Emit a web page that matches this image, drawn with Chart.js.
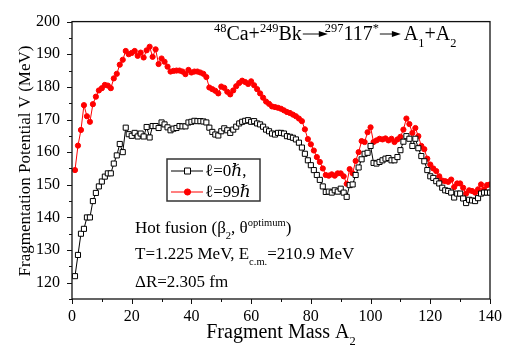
<!DOCTYPE html>
<html>
<head>
<meta charset="utf-8">
<script src="https://cdn.jsdelivr.net/npm/chart.js@4.4.1/dist/chart.umd.min.js"></script>
<style>
    html, body { margin: 0; padding: 0; background: #fff; }
</style>
</head>
<body>
<canvas id="chart" width="510" height="354"></canvas>
<script>
const massA = [
    1, 2, 3, 4, 5, 6, 7, 8, 9, 10,
    11, 12, 13, 14, 15, 16, 17, 18, 19, 20,
    21, 22, 23, 24, 25, 26, 27, 28, 29, 30,
    31, 32, 33, 34, 35, 36, 37, 38, 39, 40,
    41, 42, 43, 44, 45, 46, 47, 48, 49, 50,
    51, 52, 53, 54, 55, 56, 57, 58, 59, 60,
    61, 62, 63, 64, 65, 66, 67, 68, 69, 70,
    71, 72, 73, 74, 75, 76, 77, 78, 79, 80,
    81, 82, 83, 84, 85, 86, 87, 88, 89, 90,
    91, 92, 93, 94, 95, 96, 97, 98, 99, 100,
    101, 102, 103, 104, 105, 106, 107, 108, 109, 110,
    111, 112, 113, 114, 115, 116, 117, 118, 119, 120,
    121, 122, 123, 124, 125, 126, 127, 128, 129, 130,
    131, 132, 133, 134, 135, 136, 137, 138, 139, 140
];

// l = 0 hbar (black open squares)
const potentialL0 = [
    122, 128.5, 135, 136.5, 140, 140, 145, 147.5, 149.5, 151,
    152.5, 153.5, 153.5, 156.5, 159, 162.5, 160, 167.5, 165.5, 165,
    165.9, 164.8, 165.7, 164.8, 167.7, 164.5, 168, 168, 167.4, 169.1,
    168.5, 167.6, 166.7, 167.2, 167.4, 168, 167.9, 167.9, 169.1, 169.3,
    169.6, 169.5, 169.5, 169.4, 169.1, 167.5, 166.2, 165.4, 165.1, 166.4,
    167.3, 166.7, 165.9, 166.9, 167.8, 168.8, 169.3, 169.6, 169.8, 169.3,
    169.5, 168.8, 168.5, 167.8, 166.9, 166.4, 165.7, 165.4, 165.9, 165.9,
    165.7, 164.9, 164.7, 164.4, 163.9, 162.9, 161.4, 159.5, 157.5, 156,
    154.5, 153, 151.5, 149.5, 147.8, 147.9, 147.6, 148.3, 147.9, 148.8,
    147.6, 146.3, 149.9, 150.1, 153, 155.3, 157.8, 159.5, 159.8, 161.9,
    156.7, 156.5, 157, 157.5, 158, 158.2, 157.5, 157.5, 158.5, 160.6,
    163.2, 164.9, 164.1, 161.9, 164.1, 161.2, 158.8, 157.2, 154.5, 152.6,
    152.1, 151.1, 150.4, 149.1, 148.3, 148.1, 147.6, 146.1, 147.3, 147.3,
    145.8, 144.4, 145.4, 145.2, 145, 145.9, 147.3, 147.6, 147.6, 147.6
];

// l = 99 hbar (red filled circles)
const potentialL99 = [
    154.5, 162, 166.8, 174.4, 171, 169.3, 174.7, 177, 178.9, 179.6,
    180.6, 180.4, 179.6, 182.6, 184, 186.8, 188.3, 191, 190, 190.4,
    191, 189.5, 190.5, 189, 191.2, 192.3, 189.2, 191.5, 187, 188.7,
    187.7, 186.2, 184.7, 184.9, 185, 185, 184.7, 183.9, 185.2, 184.4,
    184.7, 184.7, 184.4, 184, 183, 179.8, 179.3, 178.8, 178, 180.1,
    179.7, 178.5, 177.7, 178.9, 180.2, 181.2, 181.9, 181.5, 180.9, 181.7,
    180.5, 179.3, 178, 176.7, 175.5, 174.8, 174, 173.8, 173.6, 173.3,
    172.8, 172.3, 172, 171.5, 171, 170.3, 169.5, 167, 164, 162.4,
    160.5, 158.5, 157, 155, 153, 152.8, 153.2, 152.8, 153.5, 153.5,
    152.6, 150.3, 154.8, 153.5, 157.3, 160, 163.4, 163.1, 166.1, 167.6,
    163.1, 163.6, 164.1, 163.9, 164.2, 163.6, 164.1, 163.1, 163.9, 164.7,
    166.9, 170.3, 168.6, 165.9, 167.4, 164.9, 161.9, 160.9, 158, 156.2,
    155, 154.2, 152.6, 151.3, 151.1, 150.9, 151.6, 149.3, 150.4, 150.4,
    149.1, 147.3, 148.3, 148.1, 147.6, 148.6, 150.1, 148.6, 149.9, 150.1
];

const xTickValues = [0, 20, 40, 60, 80, 100, 120, 140];
const yTickValues = [120, 130, 140, 150, 160, 170, 180, 190, 200];
const seriesNames = ['\u2113=0\u210F,', '\u2113=99\u210F'];

const serif = "'Liberation Serif', 'DejaVu Serif', serif";

// draws a run of text pieces, some raised or lowered, plus arrows
function drawRich(ctx, x, y, size, parts, measureOnly) {
    let cx = x;
    parts.forEach(p => {
        if (p.arrow) {
            if (!measureOnly) {
                const ay = y - size * 0.3;
                ctx.beginPath();
                ctx.moveTo(cx + 1, ay);
                ctx.lineTo(cx + p.arrow - 8, ay);
                ctx.lineWidth = 1;
                ctx.stroke();
                ctx.beginPath();
                ctx.moveTo(cx + p.arrow - 1, ay);
                ctx.lineTo(cx + p.arrow - 10, ay - 3);
                ctx.lineTo(cx + p.arrow - 10, ay + 3);
                ctx.closePath();
                ctx.fill();
            }
            cx += p.adv !== undefined ? p.adv : p.arrow;
            return;
        }
        let fs = size, dy = 0;
        if (p.sup) { fs = size * 0.62; dy = -size * 0.42; }
        if (p.sub) { fs = size * 0.62; dy = size * 0.33; }
        ctx.font = `${fs}px ${serif}`;
        if (!measureOnly) ctx.fillText(p.t, cx, y + dy);
        cx += ctx.measureText(p.t).width;
    });
    return cx - x;
}

const decorations = {
    id: 'decorations',
    afterDraw(chart) {
        const ctx = chart.ctx;
        const a = chart.chartArea;
        const xs = chart.scales.x;
        const ys = chart.scales.y;
        ctx.save();
        ctx.strokeStyle = '#111';
        ctx.fillStyle = '#000';

        // frame
        ctx.lineWidth = 1.3;
        ctx.strokeRect(a.left, a.top, a.right - a.left, a.bottom - a.top);

        // outward ticks, major and minor
        ctx.lineWidth = 1;
        ctx.beginPath();
        for (let v = 0; v <= 140; v += 10) {
            const px = Math.round(xs.getPixelForValue(v)) + 0.5;
            const len = v % 20 === 0 ? 5 : 3;
            ctx.moveTo(px, a.bottom);
            ctx.lineTo(px, a.bottom + len);
        }
        for (let v = 115; v <= 200; v += 5) {
            const py = Math.round(ys.getPixelForValue(v)) + 0.5;
            const len = v % 10 === 0 ? 5 : 3;
            ctx.moveTo(a.left, py);
            ctx.lineTo(a.left - len, py);
        }
        ctx.stroke();

        ctx.textBaseline = 'alphabetic';
        ctx.textAlign = 'left';

        // reaction label
        drawRich(ctx, 214, 40, 20, [
            {t: '48', sup: true}, {t: 'Ca+'}, {t: '249', sup: true}, {t: 'Bk'},
            {arrow: 27, adv: 23}, {t: '297', sup: true}, {t: '117'}, {t: '*', sup: true},
            {arrow: 23, adv: 25}, {t: 'A'}, {t: '1', sub: true}, {t: '+A'}, {t: '2', sub: true}
        ]);

        // conditions
        drawRich(ctx, 135, 233, 17, [
            {t: 'Hot fusion (\u03B2'}, {t: '2', sub: true}, {t: ', \u03B8'},
            {t: 'optimum', sup: true}, {t: ')'}
        ]);
        drawRich(ctx, 135, 259, 17, [
            {t: 'T=1.225 MeV, E'}, {t: 'c.m.', sub: true}, {t: '=210.9 MeV'}
        ]);
        drawRich(ctx, 135, 287, 17, [{t: '\u0394R=2.305 fm'}]);

        // x axis title
        const xt = [{t: 'Fragment Mass A'}, {t: '2', sub: true}];
        const w = drawRich(ctx, 0, 0, 20, xt, true);
        drawRich(ctx, (a.left + a.right) / 2 - w / 2, 338, 20, xt);

        // y axis title
        ctx.save();
        ctx.translate(30, 161);
        ctx.rotate(-Math.PI / 2);
        ctx.font = `17px ${serif}`;
        ctx.textAlign = 'center';
        ctx.fillText('Fragmentation Potential V (MeV)', 0, 0);
        ctx.restore();

        // legend
        ctx.lineWidth = 1.5;
        ctx.strokeStyle = '#333';
        ctx.strokeRect(167, 159, 93, 42);
        chart.data.datasets.forEach((ds, i) => {
            const ly = 171 + i * 21;
            ctx.strokeStyle = ds.borderColor;
            ctx.lineWidth = 1;
            ctx.beginPath();
            ctx.moveTo(171, ly);
            ctx.lineTo(203, ly);
            ctx.stroke();
            ctx.fillStyle = ds.pointBackgroundColor;
            ctx.strokeStyle = ds.pointBorderColor;
            ctx.beginPath();
            if (ds.pointStyle === 'rect') {
                ctx.rect(184.5, ly - 3, 6, 6);
            } else {
                ctx.arc(187.5, ly, ds.pointRadius + 0.5, 0, Math.PI * 2);
            }
            ctx.fill();
            ctx.stroke();
            ctx.fillStyle = '#000';
            ctx.font = `17px ${serif}`;
            ctx.textBaseline = 'middle';
            ctx.fillText(ds.label, 205, ly + 1);
            ctx.textBaseline = 'alphabetic';
        });

        ctx.restore();
    }
};

new Chart(document.getElementById('chart'), {
    type: 'line',
    data: {
        datasets: [{
            label: seriesNames[0],
            data: massA.map((a, i) => ({x: a, y: potentialL0[i]})),
            borderColor: '#000',
            borderWidth: 1,
            pointStyle: 'rect',
            pointRadius: 3.6,
            pointBackgroundColor: '#fff',
            pointBorderColor: '#000',
            pointBorderWidth: 1,
            tension: 0
        }, {
            label: seriesNames[1],
            data: massA.map((a, i) => ({x: a, y: potentialL99[i]})),
            borderColor: '#ff0000',
            borderWidth: 1,
            pointStyle: 'circle',
            pointRadius: 2.6,
            pointBackgroundColor: '#ff0000',
            pointBorderColor: '#ff0000',
            pointBorderWidth: 1,
            tension: 0
        }]
    },
    options: {
        responsive: false,
        animation: false,
        layout: {padding: {left: 0, right: 16, top: 11, bottom: 0}},
        plugins: {legend: {display: false}, tooltip: {enabled: false}},
        scales: {
            x: {
                type: 'linear',
                min: 0,
                max: 140,
                grid: {display: false, drawTicks: false},
                border: {display: false},
                afterBuildTicks: scale => { scale.ticks = xTickValues.map(v => ({value: v})); },
                afterFit: scale => { scale.height = 55; },
                ticks: {
                    font: {family: serif, size: 16},
                    color: '#000',
                    padding: 8,
                    maxRotation: 0,
                    autoSkip: false
                }
            },
            y: {
                type: 'linear',
                min: 115,
                max: 200,
                grid: {display: false, drawTicks: false},
                border: {display: false},
                afterBuildTicks: scale => { scale.ticks = yTickValues.map(v => ({value: v})); },
                afterFit: scale => { scale.width = 72; },
                ticks: {
                    font: {family: serif, size: 16},
                    color: '#000',
                    padding: 12,
                    autoSkip: false
                }
            }
        }
    },
    plugins: [decorations]
});
</script>
</body>
</html>
